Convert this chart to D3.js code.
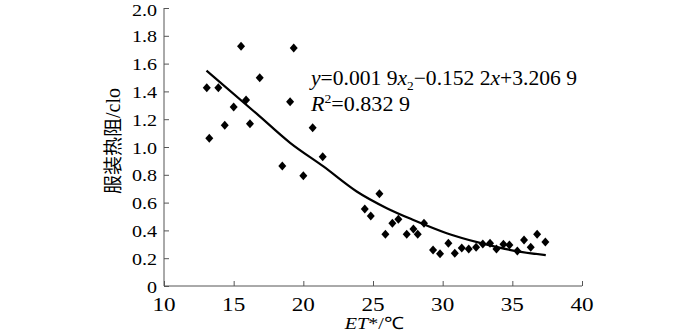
<!DOCTYPE html>
<html><head><meta charset="utf-8">
<script src="https://cdn.jsdelivr.net/npm/d3@7/dist/d3.min.js"></script>
<style>
body{margin:0;background:#fff;}
svg{display:block;}
</style></head>
<body>
<svg id="chart" width="700" height="333"></svg>
<script>
// Scatter data: ET* (°C) vs clothing insulation (clo)
const etValues = [13.07,13.25,13.9,14.36,15.0,15.53,15.89,16.17,16.87,18.49,19.05,19.31,20.0,20.67,21.39,
  24.41,24.84,25.46,25.89,26.39,26.82,27.42,27.9,28.21,28.66,29.31,29.81,30.41,30.87,31.37,31.87,32.4,
  32.88,33.4,33.86,34.36,34.79,35.36,35.84,36.32,36.78,37.37];
const cloValues = [1.427,1.063,1.427,1.156,1.288,1.724,1.338,1.168,1.499,0.863,1.326,1.712,0.794,1.139,0.930,
  0.554,0.504,0.664,0.372,0.451,0.480,0.372,0.410,0.372,0.451,0.259,0.232,0.307,0.235,0.273,0.266,0.278,
  0.302,0.307,0.266,0.300,0.295,0.252,0.331,0.278,0.372,0.317];
// Trend curve
const trendX = [13.05,16.65,19.05,21.44,23.83,25.99,27.9,30.29,32.68,35.07,37.4];
const trendY = [1.55,1.24,1.03,0.86,0.68,0.56,0.475,0.38,0.31,0.255,0.222];
const xTicks = [10,15,20,25,30,35,40];
const yTicks = [0,0.2,0.4,0.6,0.8,1.0,1.2,1.4,1.6,1.8,2.0];

const serif = "Liberation Serif";
const svg = d3.select("#chart");
const x = d3.scaleLinear().domain([10,40]).range([164,582]);
const y = d3.scaleLinear().domain([0,2]).range([286,8]);
const axisColor = "#555";

// y axis
const yAxis = svg.append("g").attr("transform","translate(164,0)")
  .call(d3.axisRight(y).tickValues(yTicks).tickSize(5).tickFormat(""));
yAxis.select(".domain").attr("stroke",axisColor).attr("d","M0,8V286");
yAxis.selectAll(".tick line").attr("stroke",axisColor);
svg.append("g").selectAll("text").data(yTicks).join("text")
  .attr("transform",d=>`translate(157,${y(d)+6.5 + (d===2 ? 1 : 0)}) scale(1.18,1)`)
  .attr("text-anchor","end")
  .style("font-family",serif).style("font-size","17px").style("fill","#000")
  .text(d=> d===0 ? "0" : d.toFixed(1));

// x axis
const xAxis = svg.append("g").attr("transform","translate(0,286)")
  .call(d3.axisTop(x).tickValues(xTicks).tickSize(5).tickFormat(""));
xAxis.select(".domain").attr("stroke",axisColor).attr("d","M164,0H582");
xAxis.selectAll(".tick line").attr("stroke",axisColor);
svg.append("g").selectAll("text").data(xTicks).join("text")
  .attr("transform",d=>`translate(${x(d)},311) scale(1.22,1)`)
  .attr("text-anchor","middle")
  .style("font-family",serif).style("font-size","19px").style("fill","#000")
  .text(d=>d);

// axis titles
const xt = svg.append("text").attr("transform","translate(374,329) scale(1.18,1)").attr("text-anchor","middle")
  .style("font-family",serif).style("font-size","17px");
xt.append("tspan").style("font-style","italic").text("ET");
xt.append("tspan").text("*/℃");

const yt = svg.append("text").attr("transform","translate(120,141) rotate(-90)")
  .attr("text-anchor","middle").style("font-size","19px")
  .style("font-family","Noto Sans CJK SC");
yt.append("tspan").text("服装热阻");
yt.append("tspan").style("font-family",serif).style("font-size","20px").text("/clo");

// trend line
const pts = trendX.map((d,i)=>[d,trendY[i]]);
svg.append("path").datum(pts)
  .attr("fill","none").attr("stroke","#000").attr("stroke-width",2.2)
  .attr("d", d3.line().x(d=>x(d[0])).y(d=>y(d[1])).curve(d3.curveMonotoneX));

// points
const data = etValues.map((d,i)=>({x:d,y:cloValues[i]}));
svg.append("g").selectAll("path").data(data).join("path")
  .attr("transform",d=>`translate(${x(d.x)},${y(d.y)})`)
  .attr("d","M0,-4.5L4,0L0,4.5L-4,0Z").attr("fill","#000");

// equation
const eq = svg.append("text").attr("x",311).attr("y",85)
  .attr("textLength",266).attr("lengthAdjust","spacingAndGlyphs")
  .style("font-family",serif).style("font-size","21px");
eq.append("tspan").style("font-style","italic").text("y");
eq.append("tspan").text("=0.001 9");
eq.append("tspan").style("font-style","italic").text("x");
eq.append("tspan").attr("dy",5).style("font-size","13px").text("2");
eq.append("tspan").attr("dy",-5).text("\u22120.152 2");
eq.append("tspan").style("font-style","italic").text("x");
eq.append("tspan").text("+3.206 9");
const r2 = svg.append("text").attr("x",311).attr("y",111)
  .attr("textLength",99).attr("lengthAdjust","spacingAndGlyphs")
  .style("font-family",serif).style("font-size","21px");
r2.append("tspan").style("font-style","italic").text("R");
r2.append("tspan").attr("dy",-8).style("font-size","13px").text("2");
r2.append("tspan").attr("dy",8).text("=0.832 9");
</script>
</body></html>
